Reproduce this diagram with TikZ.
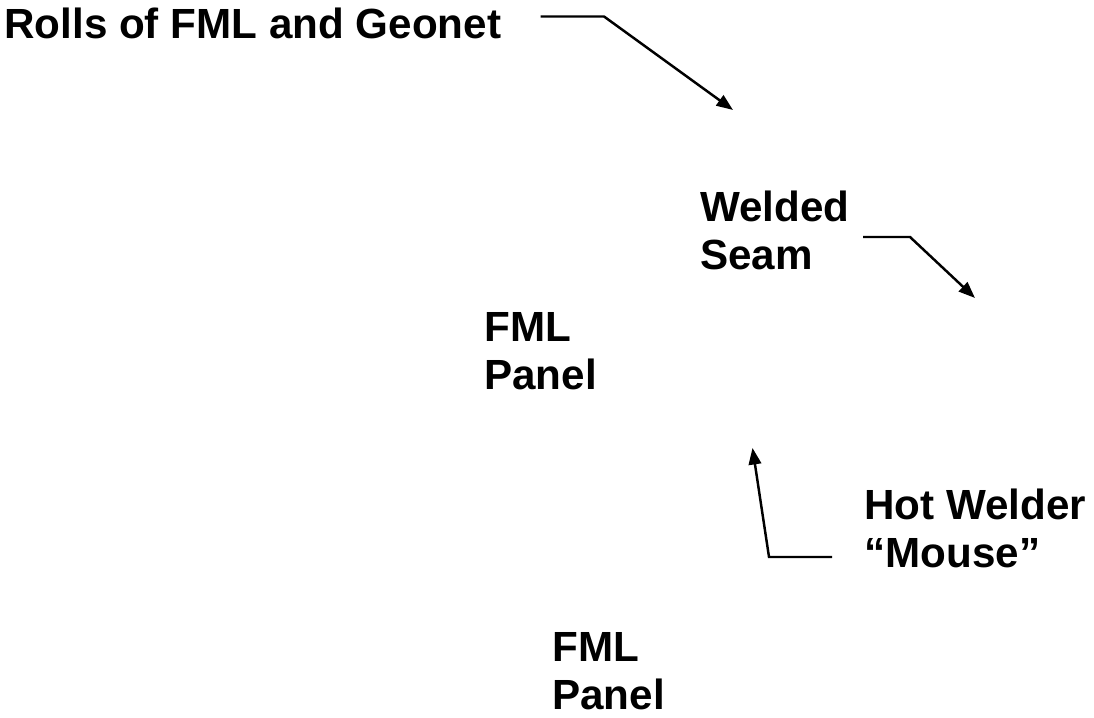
\documentclass[tikz,border=0pt]{standalone}
\usepackage{fontspec}
\setmainfont{Liberation Sans}
\usepackage{tikz}
\usetikzlibrary{arrows.meta,positioning}

\begin{document}
\begin{tikzpicture}[
lbl/.style={anchor=base west,align=left,inner sep=0pt,font=\bfseries\fontsize{24}{27.8}\selectfont},
arr/.style={-{Triangle[length=3.3mm,width=2.5mm]},line width=1.4pt}
]
\useasboundingbox (0,0) rectangle (21.88,14.36);
\node[lbl] (rolls) at (0.08,13.58) {Rolls of FML and Geonet};
\node[lbl] (seam) at (14.0,8.96) {Welded\\Seam};
\node[lbl] (panelA) at (9.68,6.56) {FML\\Panel};
\node[lbl] (mouse) at (17.28,3.0) {Hot Welder\\``Mouse''};
\node[lbl] (panelB) at (11.04,0.16) {FML\\Panel};
\coordinate (rollsfrom) at (10.81,14.03);
\coordinate (rollsto) at (14.66,12.16);
\coordinate (seamfrom) at (17.26,9.62);
\coordinate (seamto) at (19.5,8.4);
\coordinate (mousefrom) at (16.64,3.22);
\coordinate (mouseto) at (15.05,5.4);
\draw[arr] (rollsfrom) -- ++(1.27,0) -- (rollsto);
\draw[arr] (seamfrom) -- ++(0.94,0) -- (seamto);
\draw[arr] (mousefrom) -- ++(-1.26,0) -- (mouseto);
\end{tikzpicture}
\end{document}
